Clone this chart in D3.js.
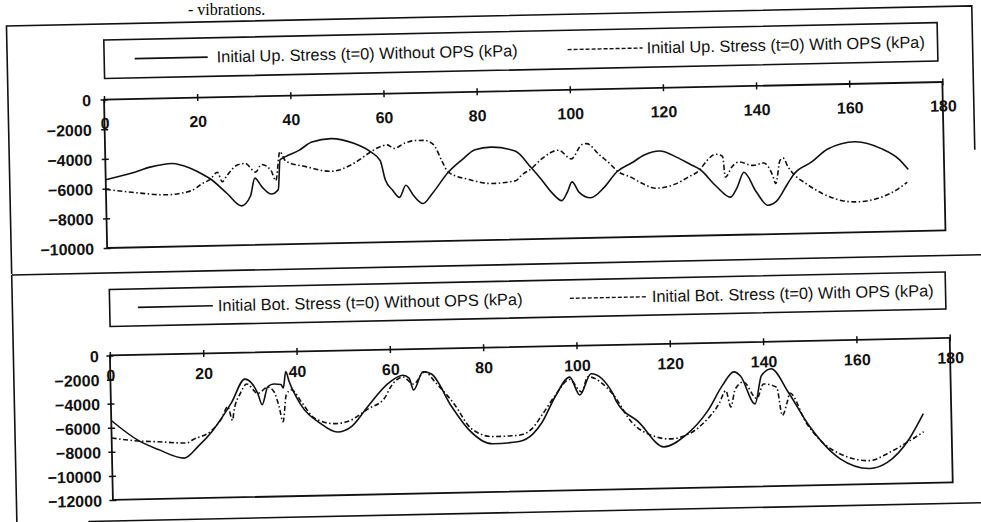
<!DOCTYPE html>
<html><head><meta charset="utf-8">
<script src="https://cdn.jsdelivr.net/npm/d3@7"></script>
<style>body{margin:0;background:#fff}svg{display:block}</style>
</head><body>
<svg id="c" width="981" height="522"></svg>
<script>
// ---------- data ----------
const xTicks = [0,20,40,60,80,100,120,140,160,180];
const upYTicks = [0,-2000,-4000,-6000,-8000,-10000];
const botYTicks = [0,-2000,-4000,-6000,-8000,-10000,-12000];

const upLegend = ["Initial Up. Stress (t=0) Without OPS (kPa)", "Initial Up. Stress (t=0) With OPS (kPa)"];
const botLegend = ["Initial Bot. Stress (t=0) Without OPS (kPa)", "Initial Bot. Stress (t=0) With OPS (kPa)"];

const upWithoutX = [0,5.5,9.8,14.3,18.2,20.7,22.5,26,29,31,32,33.5,35.5,37,37.5,38.7,41.6,44.4,48.5,53.4,57,59,60,61.5,63,64.4,66,68,70,73.5,76.6,79.4,82.8,88,91.4,93.5,95.7,97.8,99,100.1,101.5,104,107,109.7,113,115.7,119,122.7,125.6,127.6,131,134,135.5,137,139.6,142,144,146.3,147.7,151.6,155.1,161,166.6,170.2,172.3];
const upWithoutY = [-5400,-5000,-4600,-4400,-4750,-5150,-5500,-6500,-7350,-6700,-5500,-6100,-6600,-6300,-4300,-4100,-3700,-3150,-2950,-3300,-3900,-4500,-5800,-6500,-7000,-6200,-6900,-7450,-6800,-5400,-4550,-3900,-3750,-4050,-5200,-6000,-6900,-7450,-6900,-6200,-6900,-7300,-6600,-5600,-5000,-4500,-4250,-4700,-5200,-5550,-6700,-7450,-6800,-5800,-7150,-8050,-7750,-6650,-6000,-5200,-4350,-3900,-4400,-5100,-5850];

const upWithX = [0,5.5,13,18.2,20.7,22.5,24,25,26,28.3,30,32.2,33.5,35.5,36.5,37.5,38.7,43,48.5,53,57,58.4,60.6,62,64.4,66.6,68.5,70.5,72.3,73.5,78,82.8,88,89.2,91.4,93.5,97.3,100,102.4,103.4,106,108.5,109.7,112.9,115.4,118,122.2,125,127.6,129,131,132.5,133,134.5,136,139,141.3,143.1,143.8,144.8,145.5,146.5,147.7,150.3,153.8,158,161,166.6,170.2,172];
const upWithY = [-6050,-6280,-6500,-6270,-5800,-5500,-5050,-5700,-5300,-4600,-4500,-5100,-4600,-5000,-5700,-3750,-4400,-4800,-5150,-4700,-3900,-3650,-3450,-3700,-3350,-3200,-3200,-3500,-4650,-5360,-5900,-6200,-6050,-5700,-5250,-4650,-4050,-4650,-3700,-3650,-4400,-5100,-5500,-6000,-6450,-6750,-6500,-6050,-5550,-5000,-4550,-4700,-6100,-5400,-5100,-5350,-5200,-6000,-6600,-5050,-4900,-5500,-6000,-6650,-7350,-7850,-7950,-7650,-7100,-6700];

const botWithoutX = [0,5.7,10,15.5,18.5,21.5,25.8,28.8,31.5,32.4,33.7,35,36.5,37,37.6,38.3,40.5,44.8,48.4,51.5,55,59.5,62.7,64,64.9,67,68.8,73,76.6,81.6,87.3,90.3,92.3,95.2,98.4,100.5,103,107.6,108.3,113,118.3,122.9,127.9,131.1,133.6,135,138,139.5,141.6,145.2,149.5,156,162.3,166,170.9,174];
const botWithoutY = [-5400,-7100,-7900,-8650,-7700,-6500,-4150,-2200,-3400,-4350,-2850,-2650,-2700,-3000,-1650,-2500,-4300,-6000,-6750,-6300,-4700,-2800,-2150,-2400,-3400,-1900,-2100,-4850,-6800,-8000,-7850,-7250,-6300,-4200,-2600,-4100,-2350,-4050,-4700,-6450,-8550,-7650,-5600,-3550,-2450,-2800,-5150,-2800,-2250,-4250,-7050,-9850,-10700,-10250,-8300,-6250];

const botWithX = [0,5.7,10,16,17.6,21.5,23.7,25,26,26.3,27.8,29.2,31.5,33.7,35,36,36.8,37.6,38.7,41,43.5,47.8,50.6,55,58.6,60,62.7,64.9,67.4,69.5,73.5,77.1,81.6,87,90,92.3,95.2,98.4,100.9,102.3,107.6,111.5,116.6,119.5,123.8,126.7,130.3,131.8,132.8,133.8,135.6,138.4,139.9,142.7,143.8,144.9,145.5,148.8,156,162.3,166.6,170.2,174];
const botWithY = [-6850,-7150,-7250,-7400,-7100,-6400,-5400,-4450,-5600,-4900,-3350,-2600,-3400,-2900,-3300,-4500,-5800,-3600,-3150,-4300,-5550,-6050,-5900,-4900,-4050,-3100,-2300,-2900,-1900,-2750,-4600,-6700,-7400,-7350,-6850,-5700,-4100,-2800,-3850,-2600,-4100,-6450,-7700,-7900,-7500,-6700,-5050,-4000,-5350,-3900,-3300,-4700,-3500,-3800,-6150,-5050,-4300,-6750,-9450,-10050,-9400,-8650,-7750];

// ---------- drawing ----------
const svg = d3.select("#c");
svg.append("text").attr("x",188).attr("y",15)
  .attr("font-family","Liberation Serif, Times New Roman, serif").attr("font-size",16)
  .text("- vibrations.");

const g = svg.append("g").attr("transform","rotate(-1.2,490,261)");
const ink = "#111";

function line(pts){ g.append("path").attr("d", d3.line()(pts)).attr("fill","none").attr("stroke",ink).attr("stroke-width",1.6); }
// outer frames
line([[11.5,264],[11.5,16],[977,16],[977,160]]);
line([[11.5,265],[995,265]]);
line([[11.5,265],[11.5,540]]);
line([[83,513],[995,513]]);

function panel(cfg){
  const x = d3.scaleLinear().domain([0,180]).range([cfg.left, cfg.right]);
  const y = d3.scaleLinear().domain([0, cfg.ymin]).range([cfg.top, cfg.bottom]);
  // legend
  const L = cfg.legend;
  g.append("rect").attr("x",L.x).attr("y",L.y).attr("width",L.w).attr("height",L.h)
    .attr("fill","none").attr("stroke",ink).attr("stroke-width",1.6);
  const cy = L.y + L.h/2;
  g.append("line").attr("x1",L.s1[0]).attr("x2",L.s1[1]).attr("y1",cy).attr("y2",cy)
    .attr("stroke",ink).attr("stroke-width",1.6);
  g.append("line").attr("x1",L.s2[0]).attr("x2",L.s2[1]).attr("y1",cy).attr("y2",cy)
    .attr("stroke",ink).attr("stroke-width",1.4).attr("stroke-dasharray","4,2");
  [[L.t1, cfg.labels[0]],[L.t2, cfg.labels[1]]].forEach(([tx, s]) => {
    g.append("text").attr("x",tx).attr("y",cy+5.5).attr("font-family","Liberation Sans, Arial, sans-serif")
      .attr("font-size",16.4).attr("fill",ink).text(s);
  });
  // plot box
  g.append("rect").attr("x",cfg.left).attr("y",cfg.top).attr("width",cfg.right-cfg.left)
    .attr("height",cfg.bottom-cfg.top).attr("fill","none").attr("stroke",ink).attr("stroke-width",1.8);
  // x axis (at y=0, top)
  const xa = g.append("g").attr("transform",`translate(0,${cfg.top})`)
    .call(d3.axisBottom(x).tickValues(xTicks).tickSize(3).tickFormat(d3.format("d")));
  xa.select(".domain").remove();
  xa.selectAll(".tick line").attr("y1",-3.5).attr("y2",3.5).attr("stroke",ink).attr("stroke-width",1.5);
  xa.selectAll(".tick text").attr("y",cfg.xLabOff).attr("dy",0)
    .attr("font-family","Liberation Sans, Arial, sans-serif").attr("font-size",16).attr("font-weight","bold").attr("fill",ink);
  // y axis
  const ya = g.append("g").attr("transform",`translate(${cfg.left},0)`)
    .call(d3.axisLeft(y).tickValues(cfg.yTicks).tickSize(3).tickFormat(d3.format("d")));
  ya.select(".domain").remove();
  ya.selectAll(".tick line").attr("x1",-3.5).attr("x2",3.5).attr("stroke",ink).attr("stroke-width",1.5);
  ya.selectAll(".tick text").attr("x",-cfg.yLabGap).attr("dy","0.36em")
    .attr("font-family","Liberation Sans, Arial, sans-serif").attr("font-size",16).attr("font-weight","bold").attr("fill",ink);
  // series
  const ln = d3.line().x(d=>x(d[0])).y(d=>y(d[1])).curve(d3.curveMonotoneX);
  g.append("path").datum(d3.zip(cfg.sx[0], cfg.sy[0])).attr("d",ln)
    .attr("fill","none").attr("stroke",ink).attr("stroke-width",1.6).attr("stroke-linejoin","round");
  g.append("path").datum(d3.zip(cfg.sx[1], cfg.sy[1])).attr("d",ln)
    .attr("fill","none").attr("stroke",ink).attr("stroke-width",1.6).attr("stroke-dasharray","5,2.5,1.5,2.5");
}

panel({left:107.5,right:946,top:91.5,bottom:240,ymin:-10000,yTicks:upYTicks,xLabOff:29.5,yLabGap:13,
  labels:upLegend,
  legend:{x:108.5,y:32,w:833.5,h:38.5,s1:[139,212],t1:221,s2:[572,647],t2:651},
  sx:[upWithoutX,upWithX], sy:[upWithoutY,upWithY]});
panel({left:108,right:948,top:347.5,bottom:492,ymin:-12000,yTicks:botYTicks,xLabOff:25.5,yLabGap:11,
  labels:botLegend,
  legend:{x:108.8,y:281.5,w:836,h:37,s1:[137,212],t1:217,s2:[569,647],t2:651},
  sx:[botWithoutX,botWithX], sy:[botWithoutY,botWithY]});
</script>
</body></html>
